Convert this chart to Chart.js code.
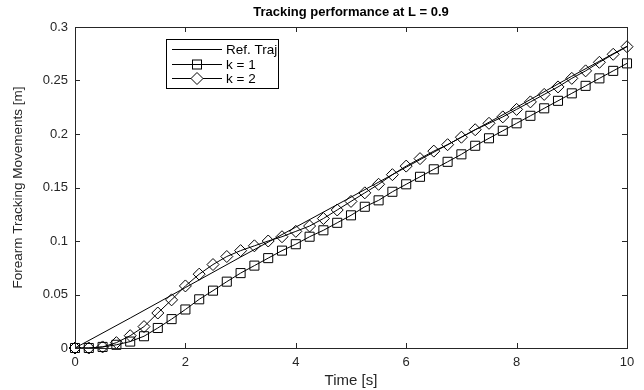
<!DOCTYPE html>
<html>
<head>
<meta charset="utf-8">
<script src="https://cdn.jsdelivr.net/npm/chart.js@4/dist/chart.umd.min.js"></script>
<style>
    html, body { margin: 0; padding: 0; background: #fff; }
    #wrap { width: 644px; height: 390px; }
</style>
</head>
<body>
<div id="wrap"><canvas id="trackingChart"></canvas></div>
<script>
// Data
const timeSteps = [
    0, 0.25, 0.5, 0.75, 1, 1.25, 1.5, 1.75, 2, 2.25, 2.5, 2.75, 3, 3.25, 3.5, 3.75,
    4, 4.25, 4.5, 4.75, 5, 5.25, 5.5, 5.75, 6, 6.25, 6.5, 6.75, 7, 7.25, 7.5, 7.75,
    8, 8.25, 8.5, 8.75, 9, 9.25, 9.5, 9.75, 10
];
const k1Values = [
    0, 0, 0.001, 0.003, 0.006, 0.011, 0.0187, 0.027, 0.036, 0.0455, 0.0536, 0.062, 0.070, 0.077, 0.084, 0.091,
    0.097, 0.104, 0.110, 0.117, 0.124, 0.132, 0.138, 0.146, 0.153, 0.160, 0.167, 0.174, 0.181, 0.189, 0.196, 0.203,
    0.210, 0.217, 0.224, 0.231, 0.238, 0.245, 0.252, 0.259, 0.266
];
const k2Values = [
    0, 0, 0.001, 0.005, 0.0115, 0.020, 0.0327, 0.045, 0.058, 0.069, 0.078, 0.0855, 0.091, 0.0955, 0.100, 0.104,
    0.109, 0.114, 0.121, 0.129, 0.137, 0.145, 0.153, 0.162, 0.170, 0.177, 0.184, 0.190, 0.197, 0.204, 0.210, 0.216,
    0.223, 0.230, 0.237, 0.244, 0.252, 0.259, 0.267, 0.2745, 0.2816
];
const refTimes = [0, 1, 2, 3, 4, 5, 6, 7, 8, 9, 10];
const refValues = [0, 0.028, 0.0565, 0.085, 0.113, 0.141, 0.169, 0.197, 0.225, 0.254, 0.282];
const seriesLabels = ["Ref. Traj", "k = 1", "k = 2"];
const xTicks = [0, 2, 4, 6, 8, 10];
const yTicks = [0, 0.05, 0.1, 0.15, 0.2, 0.25, 0.3];

const FONT = "'Liberation Sans', Arial, Helvetica, sans-serif";
const AXIS_COLOR = "#262626";

const toPoints = (xs, ys) => xs.map((x, i) => ({ x: x, y: ys[i] }));

// MATLAB-like box with inward ticks + legend inside the axes
const matlabFrame = {
    id: "matlabFrame",
    afterDatasetsDraw(chart) {
        const { ctx, chartArea: a, scales } = chart;
        ctx.save();
        ctx.strokeStyle = AXIS_COLOR;
        ctx.lineWidth = 1;
        ctx.strokeRect(Math.round(a.left) + 0.5, Math.round(a.top) + 0.5,
            Math.round(a.right - a.left), Math.round(a.bottom - a.top));

        const tl = 5;
        ctx.beginPath();
        scales.x.ticks.forEach((t) => {
            const px = Math.round(scales.x.getPixelForValue(t.value)) + 0.5;
            ctx.moveTo(px, a.bottom); ctx.lineTo(px, a.bottom - tl);
            ctx.moveTo(px, a.top); ctx.lineTo(px, a.top + tl);
        });
        scales.y.ticks.forEach((t) => {
            const py = Math.round(scales.y.getPixelForValue(t.value)) + 0.5;
            ctx.moveTo(a.left, py); ctx.lineTo(a.left + tl, py);
            ctx.moveTo(a.right, py); ctx.lineTo(a.right - tl, py);
        });
        ctx.stroke();

        // legend
        const box = { x: 166.5, y: 39.5, w: 112, h: 49 };
        ctx.fillStyle = "#fff";
        ctx.fillRect(box.x, box.y, box.w, box.h);
        ctx.strokeStyle = "#000";
        ctx.strokeRect(box.x, box.y, box.w, box.h);

        ctx.font = "13.5px " + FONT;
        ctx.textBaseline = "middle";
        chart.data.datasets.forEach((ds, i) => {
            const y = Math.round(49 + i * 14.5) + 0.5;
            ctx.strokeStyle = "#000";
            ctx.beginPath();
            ctx.moveTo(172, y); ctx.lineTo(222, y);
            ctx.stroke();
            const cx = 197;
            if (ds.pointStyle === "rect") {
                ctx.strokeRect(cx - 4.5, y - 4.5, 9, 9);
            } else if (ds.pointStyle === "rectRot") {
                ctx.beginPath();
                ctx.moveTo(cx, y - 6); ctx.lineTo(cx + 6, y);
                ctx.lineTo(cx, y + 6); ctx.lineTo(cx - 6, y);
                ctx.closePath();
                ctx.fillStyle = "#fff";
                ctx.fill();
                ctx.stroke();
            }
            ctx.fillStyle = "#000";
            ctx.fillText(ds.label, 226, y + 0.5);
        });
        ctx.restore();
    }
};

const ctx = document.getElementById("trackingChart").getContext("2d");

new Chart(ctx, {
    type: "line",
    data: {
        datasets: [
            {
                label: seriesLabels[0],
                data: toPoints(refTimes, refValues),
                borderColor: "#000",
                borderWidth: 1,
                pointRadius: 0,
                pointStyle: false,
                tension: 0,
                clip: false
            },
            {
                label: seriesLabels[1],
                data: toPoints(timeSteps, k1Values),
                borderColor: "#000",
                borderWidth: 1,
                pointStyle: "rect",
                pointRadius: 6.4,
                pointBorderWidth: 1,
                pointBorderColor: "#000",
                pointBackgroundColor: "rgba(0,0,0,0)",
                tension: 0,
                clip: false
            },
            {
                label: seriesLabels[2],
                data: toPoints(timeSteps, k2Values),
                borderColor: "#000",
                borderWidth: 1,
                pointStyle: "rectRot",
                pointRadius: 6,
                pointBorderWidth: 1,
                pointBorderColor: "#000",
                pointBackgroundColor: "rgba(0,0,0,0)",
                tension: 0,
                clip: false
            }
        ]
    },
    options: {
        responsive: true,
        maintainAspectRatio: false,
        animation: false,
        events: [],
        layout: { padding: { left: 0, right: 17, top: 0, bottom: 0 } },
        plugins: {
            legend: { display: false },
            tooltip: { enabled: false },
            title: {
                display: true,
                text: "Tracking performance at L = 0.9",
                fullSize: false,
                color: "#000",
                font: { family: FONT, size: 13, weight: "bold", lineHeight: 1.2 },
                padding: { top: 4.2, bottom: 7.2 }
            }
        },
        scales: {
            x: {
                type: "linear",
                min: 0,
                max: 10,
                afterBuildTicks: (scale) => { scale.ticks = xTicks.map((v) => ({ value: v })); },
                afterFit: (scale) => { scale.height = 42; },
                grid: { display: false, drawTicks: false },
                border: { display: false },
                ticks: {
                    color: AXIS_COLOR,
                    padding: 7,
                    maxRotation: 0,
                    font: { family: FONT, size: 13 },
                    callback: (v) => String(v)
                },
                title: {
                    display: true,
                    text: "Time [s]",
                    color: AXIS_COLOR,
                    font: { family: FONT, size: 15 },
                    padding: { top: 0, bottom: 0 }
                }
            },
            y: {
                type: "linear",
                min: 0,
                max: 0.3,
                afterBuildTicks: (scale) => { scale.ticks = yTicks.map((v) => ({ value: v })); },
                afterFit: (scale) => { scale.width = 75; },
                grid: { display: false, drawTicks: false },
                border: { display: false },
                ticks: {
                    color: AXIS_COLOR,
                    padding: 7,
                    font: { family: FONT, size: 13 },
                    callback: (v) => String(Number(v.toFixed(2)))
                },
                title: {
                    display: true,
                    text: "Forearm Tracking Movements [m]",
                    color: AXIS_COLOR,
                    font: { family: FONT, size: 13.5 },
                    padding: { top: 10, bottom: 0 }
                }
            }
        }
    },
    plugins: [matlabFrame]
});
</script>
</body>
</html>
